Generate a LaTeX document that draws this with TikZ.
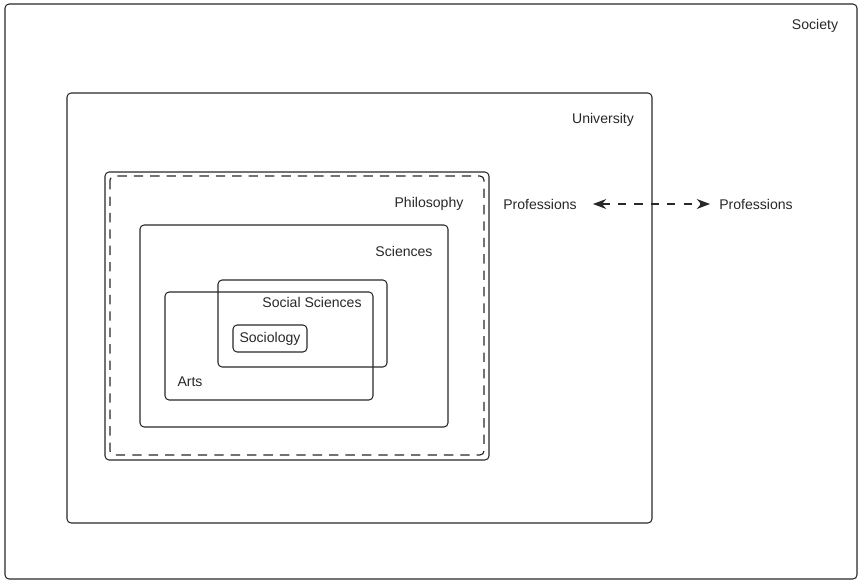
\documentclass[tikz,border=0pt]{standalone}
\usepackage{fontspec}
\setmainfont{Liberation Sans}
\usetikzlibrary{arrows.meta,positioning}
\definecolor{ink}{RGB}{40,40,40}
\tikzset{
  >={Stealth[length=4mm,width=3mm]},
  area/.style={draw=ink,line width=0.9pt,rounded corners=3.5pt},
  inner area/.style={draw=ink,line width=1pt,rounded corners=3.5pt,dash pattern=on 8pt off 6pt},
  tag/.style={font=\fontsize{12}{14}\selectfont,text=ink,inner sep=0pt},
  link/.style={<->,draw=ink,line width=0.9pt,dash pattern=on 7pt off 7pt},
}
\begin{document}
\begin{tikzpicture}[x=0.03cm,y=-0.03cm]
  \useasboundingbox (0,0) rectangle (861,583);
  % nested fields
  \draw[area] (5,4) rectangle (857,579);
  \draw[area] (67,93) rectangle (652,523);
  \draw[area] (105,172) rectangle (489,460);
  \draw[inner area] (110,176) rectangle (484,455);
  \draw[area] (140,225) rectangle (448,427);
  \draw[area] (218,280) rectangle (387,367);
  \draw[area] (165,292) rectangle (373,400);
  \draw[area] (233,325) rectangle (307,352);
  % labels
  \node[tag] (society) at (815,26) {Society};
  \node[tag] (university) at (603,120) {University};
  \node[tag] (philosophy) at (429,204) {Philosophy};
  \node[tag] (sciences) at (404,251) {Sciences};
  \node[tag] (socsci) at (312,302) {Social Sciences};
  \node[tag] (sociology) at (270,339) {Sociology};
  \node[tag] (arts) at (190,382) {Arts};
  \node[tag] (profin) at (540,204) {Professions};
  \node[tag] (profout) at (756,204) {Professions};
  \draw[link,shorten <=0.48cm,shorten >=0.27cm] (profin.east) -- (profout.west);
\end{tikzpicture}
\end{document}
